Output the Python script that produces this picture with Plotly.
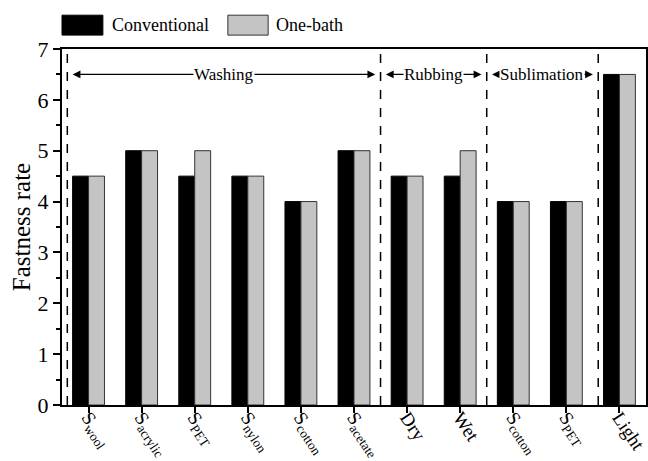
import plotly.graph_objects as go

categories = ["S<sub>wool</sub>", "S<sub>acrylic</sub>", "S<sub>PET</sub>", "S<sub>nylon</sub>",
              "S<sub>cotton</sub>", "S<sub>acetate</sub>", "Dry", "Wet",
              "S<sub>cotton</sub>", "S<sub>PET</sub>", "Light"]
conventional = [4.5, 5, 4.5, 4.5, 4, 5, 4.5, 4.5, 4, 4, 6.5]
one_bath = [4.5, 5, 5, 4.5, 4, 5, 4.5, 5, 4, 4, 6.5]
positions = list(range(1, len(categories) + 1))

# test groups: (label, left boundary, right boundary)
sections = [("Washing", 0.6, 6.5), ("Rubbing", 6.5, 8.5), ("Sublimation", 8.5, 10.6)]
dividers = [0.6, 6.5, 8.5, 10.6]

FONT = "Liberation Serif, Times New Roman, serif"

fig = go.Figure()
fig.add_trace(go.Bar(x=positions, y=conventional, name="Conventional", offset=-0.3, width=0.3,
                     marker=dict(color="black", line=dict(color="black", width=1))))
fig.add_trace(go.Bar(x=positions, y=one_bath, name="One-bath", offset=0.0, width=0.3,
                     marker=dict(color="#c4c4c4", line=dict(color="#333333", width=1))))

shapes = []
for xd in dividers:
    shapes.append(dict(type="line", xref="x", yref="y", x0=xd, x1=xd, y0=0, y1=7,
                       line=dict(color="black", width=1.5, dash="dash")))

# legend swatches
shapes.append(dict(type="rect", xref="paper", yref="paper", x0=0.0, x1=0.07, y0=1.039, y1=1.095,
                   fillcolor="black", line=dict(color="black", width=1)))
shapes.append(dict(type="rect", xref="paper", yref="paper", x0=0.284, x1=0.353, y0=1.039, y1=1.095,
                   fillcolor="#c4c4c4", line=dict(color="#333333", width=1)))

annotations = [
    dict(xref="paper", yref="paper", x=0.082, y=1.067, text="Conventional", showarrow=False,
         xanchor="left", yanchor="middle", font=dict(family=FONT, size=18, color="black")),
    dict(xref="paper", yref="paper", x=0.363, y=1.067, text="One-bath", showarrow=False,
         xanchor="left", yanchor="middle", font=dict(family=FONT, size=18, color="black")),
]

for label, left, right in sections:
    mid = (left + right) / 2
    for end in (left + 0.1, right - 0.1):
        annotations.append(dict(x=end, y=6.5, ax=mid, ay=6.5, xref="x", yref="y",
                                axref="x", ayref="y", text="", showarrow=True,
                                arrowhead=2, arrowsize=1.2, arrowwidth=1.3, arrowcolor="black"))
    annotations.append(dict(x=mid, y=6.5, xref="x", yref="y", text=label, showarrow=False,
                            bgcolor="white", borderpad=0,
                            font=dict(family=FONT, size=17, color="black")))

fig.update_layout(
    width=648, height=461,
    margin=dict(l=62, r=2, t=49, b=56),
    plot_bgcolor="white", paper_bgcolor="white",
    showlegend=False, barmode="overlay",
    shapes=shapes, annotations=annotations,
    font=dict(family=FONT, color="black"),
)
fig.update_xaxes(
    range=[0.5, 11.5], tickvals=positions, ticktext=categories, tickangle=56,
    ticks="outside", ticklen=6, tickwidth=1.5, tickcolor="black",
    showline=True, linecolor="black", linewidth=2, mirror=True,
    showgrid=False, zeroline=False, automargin=False, ticklabeloverflow="allow",
    ticklabelstandoff=-14,
    tickfont=dict(family=FONT, size=19, color="black"),
)
fig.update_yaxes(
    range=[0, 7], dtick=1, ticks="outside", ticklen=7, tickwidth=1.5, tickcolor="black",
    minor=dict(dtick=0.5, ticks="outside", ticklen=4, tickwidth=1.5, tickcolor="black"),
    showline=True, linecolor="black", linewidth=2, mirror=True,
    showgrid=False, zeroline=False, automargin=False,
    tickfont=dict(family=FONT, size=22, color="black"),
    title=dict(text="Fastness rate", font=dict(family=FONT, size=25, color="black"), standoff=0),
)

fig.write_html("out.html")
